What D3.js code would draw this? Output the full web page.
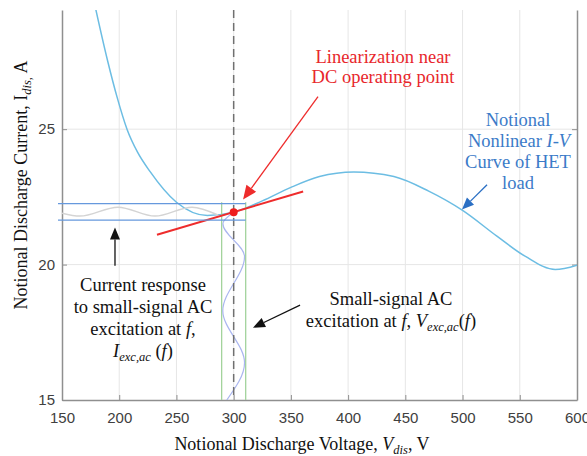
<!DOCTYPE html>
<html>
<head>
<meta charset="utf-8">
<script src="https://cdn.jsdelivr.net/npm/d3@7"></script>
<style>
  body { margin: 0; background: #fff; }
  svg { display: block; }
</style>
</head>
<body>
<svg id="chart" width="587" height="456"></svg>
<script>
// ticks
var vTicks = [150, 200, 250, 300, 350, 400, 450, 500, 550, 600];
var iTicks = [15, 20, 25];

// notional I-V curve of the load
var curveV = [176, 190, 198, 206.8, 216, 227, 250, 277, 300, 325, 350, 375, 405, 440, 470, 500, 530, 555, 581, 600];
var curveI = [30.1, 27.5, 26.2, 25.0, 24.15, 23.43, 22.3, 21.81, 21.93, 22.35, 22.85, 23.25, 23.42, 23.25, 22.72, 22.0, 21.05, 20.3, 19.82, 19.98];

// DC operating point and its linearization
var opV = 300, opI = 21.93;
var linV = [233, 360.7];
var linI = [21.10, 22.70];

// small-signal band
var bandI = [21.64, 22.25];
var bandV = [289.5, 310.5];

// current response wave (drawn along V axis)
var waveV = [150, 165.7, 198.9, 231.3, 263.6, 286.3];
var waveI = [21.90, 21.79, 22.12, 21.79, 22.12, 21.83];

// voltage excitation wave (drawn along I axis)
var vwV = [300, 290.6, 309.5, 290.5, 309.5, 294];
var vwI = [21.93, 21.51, 20.30, 18.30, 16.38, 15.0];

var margin_left = 62, margin_top = 10, plot_w = 515, plot_h = 390;

var chart = d3.select("#chart");
var x = d3.scaleLinear().domain([150, 600]).range([margin_left, margin_left + plot_w]);
var y = d3.scaleLinear().domain([15, 29.4]).range([margin_top + plot_h, margin_top]);

chart.append("defs").append("clipPath").attr("id", "clip")
    .append("rect").attr("x", margin_left).attr("y", margin_top)
    .attr("width", plot_w).attr("height", plot_h);

// grid
chart.append("g").selectAll("line").data(vTicks.slice(1, -1)).join("line")
    .attr("x1", d => x(d)).attr("x2", d => x(d))
    .attr("y1", margin_top).attr("y2", margin_top + plot_h)
    .style("stroke", "#e6e6e6");
chart.append("g").selectAll("line").data(iTicks.slice(1)).join("line")
    .attr("x1", margin_left).attr("x2", margin_left + plot_w)
    .attr("y1", d => y(d)).attr("y2", d => y(d))
    .style("stroke", "#e6e6e6");

// axes
var xAxis = chart.append("g")
    .attr("transform", "translate(0," + (margin_top + plot_h) + ")")
    .call(d3.axisBottom(x).tickValues(vTicks).tickSizeInner(-5).tickSizeOuter(0).tickPadding(12));
var yAxis = chart.append("g")
    .attr("transform", "translate(" + margin_left + ",0)")
    .call(d3.axisLeft(y).tickValues(iTicks).tickSizeInner(-5).tickSizeOuter(0).tickPadding(7));
var yAxisR = chart.append("g")
    .attr("transform", "translate(" + (margin_left + plot_w) + ",0)")
    .call(d3.axisRight(y).tickValues(iTicks).tickSizeInner(-5).tickSizeOuter(0).tickFormat(""));
[xAxis, yAxis, yAxisR].forEach(function(a){
    a.select(".domain").style("stroke", "#8f8f8f").style("stroke-width", 1.5);
    a.selectAll(".tick line").style("stroke", "#8f8f8f");
    a.selectAll("text").style("font-family", "'Liberation Sans', Arial, sans-serif")
        .style("font-size", "15px").style("fill", "#404040");
});

var plot = chart.append("g").attr("clip-path", "url(#clip)");

// I-V curve
plot.append("path")
    .datum(d3.range(curveV.length))
    .attr("d", d3.line().x(i => x(curveV[i])).y(i => y(curveI[i])).curve(d3.curveMonotoneX))
    .style("fill", "none").style("stroke", "#6cbde3").style("stroke-width", 1.5);

// current response wave
plot.append("path")
    .datum(d3.range(waveV.length))
    .attr("d", d3.line().x(i => x(waveV[i])).y(i => y(waveI[i])).curve(d3.curveMonotoneX))
    .style("fill", "none").style("stroke", "#d4d4d4").style("stroke-width", 1.5);

// band lines
chart.append("g").selectAll("line").data(bandI).join("line")
    .attr("x1", x(146.5)).attr("x2", x(bandV[1]))
    .attr("y1", d => y(d)).attr("y2", d => y(d))
    .style("stroke", "#6699dd").style("stroke-width", 1.3);
plot.append("g").selectAll("line").data(bandV).join("line")
    .attr("x1", d => x(d)).attr("x2", d => x(d))
    .attr("y1", y(22.3)).attr("y2", y(15))
    .style("stroke", "#a3d39c").style("stroke-width", 1.3);

// excitation wave
plot.append("path")
    .datum(d3.range(vwV.length))
    .attr("d", d3.line().x(i => x(vwV[i])).y(i => y(vwI[i])).curve(d3.curveMonotoneY))
    .style("fill", "none").style("stroke", "#aab6ef").style("stroke-width", 1.2);

// operating voltage
plot.append("line")
    .attr("x1", x(opV)).attr("x2", x(opV))
    .attr("y1", margin_top).attr("y2", margin_top + plot_h)
    .style("stroke", "#707070").style("stroke-width", 1.5).style("stroke-dasharray", "8,5");

// linearization
plot.append("line")
    .attr("x1", x(linV[0])).attr("y1", y(linI[0]))
    .attr("x2", x(linV[1])).attr("y2", y(linI[1]))
    .style("stroke", "#ee2c2c").style("stroke-width", 2);
plot.append("circle")
    .attr("cx", x(opV)).attr("cy", y(opI)).attr("r", 4)
    .style("fill", "#ee1c1c");

// arrows
function arrow(v1, i1, v2, i2, color, len, wid){
    var x1 = x(v1), y1 = y(i1), x2 = x(v2), y2 = y(i2);
    var a = Math.atan2(y2 - y1, x2 - x1);
    var bx = x2 - len * Math.cos(a), by = y2 - len * Math.sin(a);
    var px = -Math.sin(a) * wid / 2, py = Math.cos(a) * wid / 2;
    chart.append("line")
        .attr("x1", x1).attr("y1", y1).attr("x2", bx).attr("y2", by)
        .style("stroke", color).style("stroke-width", 1.3);
    chart.append("path")
        .attr("d", "M" + x2 + "," + y2 + "L" + (bx + px) + "," + (by + py) + "L" + (bx - px) + "," + (by - py) + "Z")
        .style("fill", color);
}
arrow(373.7, 26.2, 308.2, 22.4, "#ee2c2c", 14, 12);
arrow(521.4, 22.95, 499.5, 22.03, "#2a6fc4", 12, 10);
arrow(196.3, 19.96, 196.3, 21.37, "#111", 12, 10);
arrow(358, 18.5, 316.9, 17.67, "#111", 12, 10);

// annotation text
function label(tx, ty, parts, color, size){
    var t = chart.append("text")
        .attr("x", tx).attr("y", ty)
        .attr("text-anchor", "middle")
        .style("font-family", "'Liberation Serif', 'Times New Roman', serif")
        .style("font-size", (size || 18.5) + "px").style("fill", color);
    parts.forEach(function(p){
        var s = t.append("tspan").text(p.t);
        if (p.i) s.style("font-style", "italic");
        if (p.sub) s.style("font-size", "12.5px").attr("dy", 3.5);
        if (p.up) s.attr("dy", -3.5);
    });
    return t;
}

label(383, 63, [{t: "Linearization near"}], "#e8262b");
label(383, 83, [{t: "DC operating point"}], "#e8262b");

var blue = "#3b7bc8";
label(518, 126, [{t: "Notional"}], blue);
label(519, 147, [{t: "Nonlinear "}, {t: "I-V", i: 1}], blue);
label(518, 168, [{t: "Curve of HET"}], blue);
label(518, 189, [{t: "load"}], blue);

label(143, 291, [{t: "Current response"}], "#111");
label(143, 313, [{t: "to small-signal AC"}], "#111");
label(143, 335, [{t: "excitation at "}, {t: "f", i: 1}, {t: ","}], "#111");
label(143, 357, [{t: "I", i: 1}, {t: "exc,ac", i: 1, sub: 1}, {t: " (", up: 1}, {t: "f", i: 1}, {t: ")"}], "#111");

label(391, 305, [{t: "Small-signal AC"}], "#111");
label(391, 327, [{t: "excitation at "}, {t: "f", i: 1}, {t: ", "}, {t: "V", i: 1}, {t: "exc,ac", i: 1, sub: 1}, {t: "(", up: 1}, {t: "f", i: 1}, {t: ")"}], "#111");

// axis titles
label(302, 450, [{t: "Notional Discharge Voltage, "}, {t: "V", i: 1}, {t: "dis", i: 1, sub: 1}, {t: ", V", up: 1}], "#111", 18);
label(0, 0, [{t: "Notional Discharge Current, I"}, {t: "dis,", i: 1, sub: 1}, {t: "  A", up: 1}], "#111", 18)
    .attr("transform", "translate(27,185) rotate(-90)");
</script>
</body>
</html>
